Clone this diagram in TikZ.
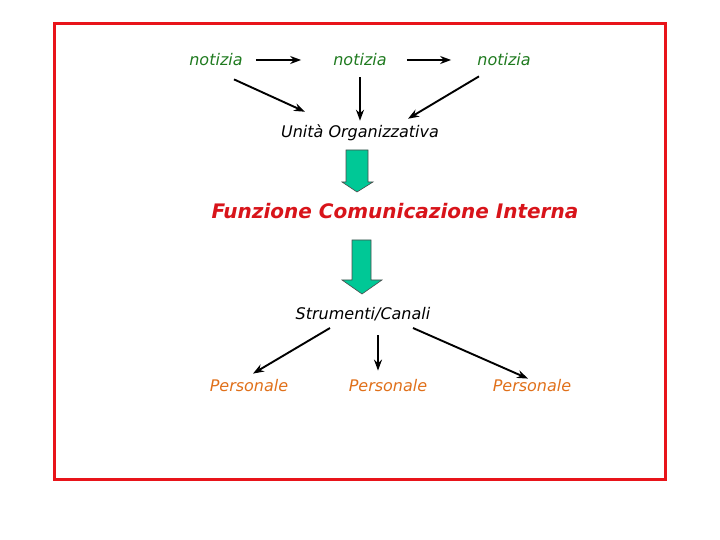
\documentclass[tikz,border=0pt]{standalone}
\usepackage{fontspec}
\setmainfont{DejaVu Sans}
\usetikzlibrary{arrows.meta,positioning}
\definecolor{frame1}{HTML}{E8141A}
\definecolor{green1}{HTML}{1F7A1F}
\definecolor{red1}{HTML}{D8141A}
\definecolor{orange1}{HTML}{E0701A}
\definecolor{teal1}{HTML}{00C896}

\tikzset{
  txt/.style={inner sep=1pt,font=\fontsize{16}{19}\selectfont\itshape},
  arr/.style={-{Stealth[length=11pt,width=8pt]},line width=1.9pt,black},
  blockarrow/.style={fill=teal1,draw=black!70,line width=0.6pt}
}

\begin{document}
\begin{tikzpicture}[x=1pt,y=1pt]
  \useasboundingbox (0,0) rectangle (720,540);
  \draw[frame1,line width=3pt] (54,60) rectangle (665,516);

  % top row
  \node[txt,green1] (n1) at (216,480) {notizia};
  \node[txt,green1] (n2) at (360,480) {notizia};
  \node[txt,green1] (n3) at (504,480) {notizia};
  \node[txt,black] (u) at (360,407) {Unità Organizzativa};
  \draw[arr] ([xshift=12pt]n1.east) -- ([xshift=-31pt]n2.west);
  \draw[arr] ([xshift=19pt]n2.east) -- ([xshift=-25pt]n3.west);
  \draw[arr] ([xshift=18pt,yshift=-12pt]n1.south) -- ([xshift=-55pt,yshift=12pt]u.north);
  \draw[arr] ([yshift=-10pt]n2.south) -- ([yshift=3pt]u.north);
  \draw[arr] ([xshift=-25pt,yshift=-9pt]n3.south) -- ([xshift=48pt,yshift=5pt]u.north);

  % centre
  \node[inner sep=1pt,red1,font=\fontsize{20}{24}\selectfont\bfseries\itshape] (f) at (395,329)
    {Funzione Comunicazione Interna};
  \filldraw[blockarrow] (346,390) -- (368,390) -- (368,358) -- (373,358) -- (357,348)
    -- (342,358) -- (346,358) -- cycle;
  \filldraw[blockarrow] (352,300) -- (371,300) -- (371,260) -- (382,260) -- (362,246)
    -- (342,260) -- (352,260) -- cycle;

  % bottom row
  \node[txt,black] (s) at (363,226) {Strumenti/Canali};
  \node[txt,orange1] (p1) at (249,154) {Personale};
  \node[txt,orange1] (p2) at (388,154) {Personale};
  \node[txt,orange1] (p3) at (532,154) {Personale};
  \draw[arr] ([xshift=-33pt,yshift=-6pt]s.south) -- ([xshift=4pt,yshift=5pt]p1.north);
  \draw[arr] ([xshift=15pt,yshift=-13pt]s.south) -- ([xshift=-10pt,yshift=8pt]p2.north);
  \draw[arr] ([xshift=50pt,yshift=-6pt]s.south) -- ([xshift=-4pt,yshift=0pt]p3.north);
\end{tikzpicture}
\end{document}
